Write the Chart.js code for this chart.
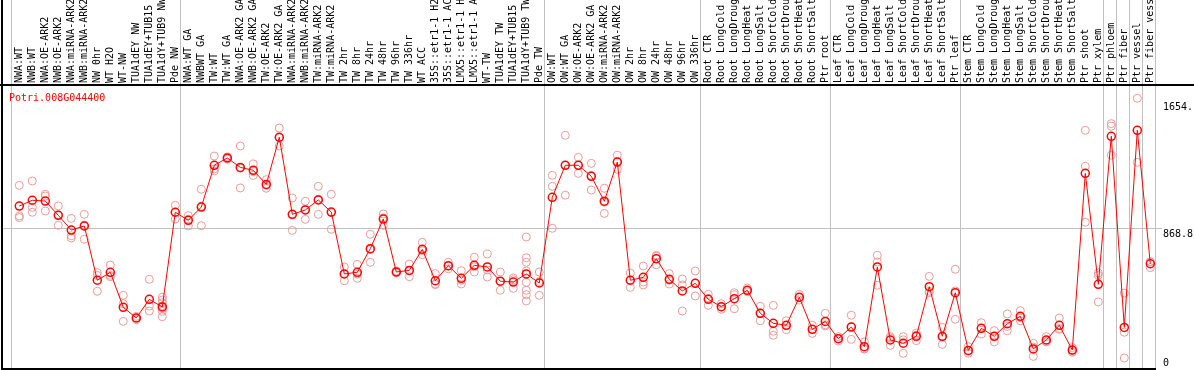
<!DOCTYPE html>
<html><head><meta charset="utf-8">
<script src="https://cdn.jsdelivr.net/npm/chart.js@4"></script>
<style>html,body{margin:0;padding:0;background:#fff;overflow:hidden}#wrap{width:1194px;height:370px}</style>
</head><body>
<div id="wrap"><canvas id="c" width="1194" height="370"></canvas></div>
<script>
const geneName = "Potri.008G044400";
const categories = [
 "NWA:WT","NWB:WT","NWA:OE-ARK2","NWB:OE-ARK2","NWA:miRNA-ARK2","NWB:miRNA-ARK2","NW 0hr","WT H2O","WT-NW","TUA1dEY NW","TUA1dEY+TUB15 NW","TUA1dY+TUB9 NW","Pde NW",
 "NWA:WT GA","NWBWT GA","TW:WT","TW:WT GA","NWA:OE-ARK2 GA","NWB:OE-ARK2 GA","TW:OE-ARK2","TW:OE-ARK2 GA","NWA:miRNA-ARK2 GA","NWB:miRNA-ARK2 GA","TW:miRNA-ARK2","TW:miRNA-ARK2 GA",
 "TW 2hr","TW 8hr","TW 24hr","TW 48hr","TW 96hr","TW 336hr","WT ACC","35S::etr1-1 H2O","35S::etr1-1 ACC","LMX5::etr1-1 H2O","LMX5::etr1-1 ACC","WT-TW","TUA1dEY TW","TUA1dEY+TUB15 TW","TUA1dY+TUB9 TW","Pde TW",
 "OW:WT","OW:WT GA","OW:OE-ARK2","OW:OE-ARK2 GA","OW:miRNA-ARK2","OW:miRNA-ARK2 GA","OW 2hr","OW 8hr","OW 24hr","OW 48hr","OW 96hr","OW 336hr",
 "Root CTR","Root LongCold","Root LongDrought","Root LongHeat","Root LongSalt","Root ShortCold","Root ShortDrought","Root ShortHeat","Root ShortSalt","Ptr root",
 "Leaf CTR","Leaf LongCold","Leaf LongDrought","Leaf LongHeat","Leaf LongSalt","Leaf ShortCold","Leaf ShortDrought","Leaf ShortHeat","Leaf ShortSalt","Ptr leaf",
 "Stem CTR","Stem LongCold","Stem LongDrought","Stem LongHeat","Stem LongSalt","Stem ShortCold","Stem ShortDrought","Stem ShortHeat","Stem ShortSalt","Ptr shoot",
 "Ptr xylem","Ptr phloem","Ptr fiber","Ptr vessel","Ptr fiber vessel"
];
const means = [
 1006,1042,1037,949,858,883,548,597,381,315,430,383,968,
 918,1000,1258,1303,1245,1227,1140,1431,955,982,1044,969,
 587,597,743,926,599,609,739,545,638,560,640,630,542,537,587,531,
 1060,1258,1258,1190,1036,1278,548,566,681,554,482,529,
 430,385,434,486,344,282,270,443,245,294,
 187,259,138,630,179,159,202,508,202,471,
 115,251,202,280,325,124,179,270,117,1208,
 523,1437,257,1474,650
];
const replicates = [
 [1134,945,935],[1161,998,968],[1079,1068,976],[1007,952,887],[930,823,809],[955,889,801],
 [595,578,480],[642,578,570],[455,403,294],[325,315,305],[554,389,358],[443,426,409,389,372,356,323],[1011,968,926],
 [947,924,883],[1110,1005,885],[1315,1235,1223],[1310,1303,1296],[1377,1240,1118],[1266,1220,1196],
 [1169,1135,1116],[1488,1428,1377],[1056,953,856],[1036,985,924],[1128,1048,955],[1079,966,863],
 [630,587,545],[646,586,560],[832,738,659],[957,934,887],[605,599,593],[648,609,570],[782,730,706],
 [589,525,521],[659,636,619],[607,548,525],[690,631,599],[710,612,568],[599,541,486],[562,551,498],
 [815,687,659,605,535,486,459,420],[599,540,455],
 [1196,1128,869],[1443,1258,1073],[1307,1258,1208],[1270,1195,1105],[1116,1030,961],[1320,1282,1233],
 [593,547,504],[636,537,519],[702,697,644],[589,548,525],[556,519,358],[605,531,451],
 [461,436,393],[403,383,369],[471,459,372],[500,486,477],[387,347,298],[393,233,208],[298,269,243],
 [461,442,426],[270,245,220],[344,273,266],
 [200,188,173],[332,262,183],[167,124,123],[702,661,517],[200,191,146],[200,180,97],[222,209,175],
 [572,480,472],[257,197,152],[616,482,307],
 [138,110,97],[286,251,216],[237,202,167],[340,263,237],[360,317,298],[159,135,78],[200,170,167],
 [315,250,245],[132,117,104],[1474,1252,906],
 [593,578,414],[1515,1499,1320],[469,227,68],[1672,1276],[663,661,626]
];
const groupEnds = [-1, 12, 40, 52, 62, 72, 83, 84, 85, 86, 87];
const yTickValues = [0, 868.8, 1654];
const yTickLabels = ["0", "868.8", "1654."];

const FONT = '"DejaVu Sans Mono", monospace';

const framePlugin = {
  id: 'frame',
  beforeDraw(chart) {
    const ys = chart.scales.y, a = chart.chartArea;
    const items = ys.getLabelItems();
    if (!items._adjusted) {
      items.forEach(it => {
        it.options.textBaseline = 'alphabetic';
        it.options.translation = [it.options.translation[0], Math.min(it.options.translation[1] + 9, a.bottom - 3)];
      });
      items._adjusted = true;
    }
  },
  beforeDatasetsDraw(chart) {
    const {ctx, chartArea: a, scales: {x}} = chart;
    ctx.save();
    ctx.fillStyle = '#c0c0c0';
    let lastPx = a.right;
    groupEnds.forEach(k => {
      const px = Math.round(x.getPixelForValue(k + 0.36));
      ctx.fillRect(px, 0, 1, a.bottom - 1);
      lastPx = px;
    });
    ctx.fillStyle = '#000';
    ctx.fillRect(0, a.top - 2, chart.width, 2);
    ctx.fillRect(a.left - 1, 0, 2, a.bottom + 1);
    ctx.fillRect(a.left - 1, a.bottom - 1, lastPx - a.left + 2, 2);
    ctx.restore();
  },
  afterDatasetsDraw(chart) {
    const {ctx, chartArea: a} = chart;
    ctx.save();
    ctx.font = '10px ' + FONT;
    ctx.fillStyle = '#ff0000';
    ctx.textBaseline = 'alphabetic';
    ctx.fillText(chart.data.datasets[0].label, a.left + 7, a.top + 15);
    ctx.restore();
  }
};

new Chart(document.getElementById('c'), {
  type: 'scatter',
  data: {
    datasets: [
      {
        label: geneName,
        data: means.map((v, i) => ({x: i, y: v})),
        showLine: true,
        borderColor: '#ff0000',
        borderWidth: 1,
        tension: 0,
        pointRadius: 4,
        pointBorderWidth: 1.5,
        pointBorderColor: '#ff0000',
        pointBackgroundColor: 'rgba(0,0,0,0)'
      },
      {
        label: 'replicates',
        data: replicates.flatMap((arr, i) => arr.map(v => ({x: i, y: v}))),
        showLine: false,
        pointRadius: 4,
        pointBorderWidth: 1,
        pointBorderColor: '#ec9a9a',
        pointBackgroundColor: 'rgba(0,0,0,0)'
      }
    ]
  },
  options: {
    responsive: false,
    animation: false,
    devicePixelRatio: 1,
    layout: {autoPadding: false, padding: {left: 2, right: 0, top: 0, bottom: 1}},
    plugins: {legend: {display: false}, tooltip: {enabled: false}, title: {display: false}},
    events: [],
    scales: {
      x: {
        type: 'linear',
        position: 'top',
        min: -1.331,
        max: 87.9,
        bounds: 'data',
        afterBuildTicks: s => { s.ticks = categories.map((_, i) => ({value: i})); },
        afterFit: s => { s.height = 86; s.paddingLeft = 0; s.paddingRight = 0; s.paddingTop = 0; s.paddingBottom = 0; },
        grid: {display: false, drawTicks: false},
        border: {display: false},
        ticks: {
          autoSkip: false, minRotation: 90, maxRotation: 90, padding: 3, color: '#000',
          labelOffset: 12,
          font: {family: FONT, size: 10},
          callback: v => categories[v]
        }
      },
      y: {
        type: 'linear',
        position: 'right',
        min: 0,
        max: 1747.5,
        afterBuildTicks: s => { s.ticks = yTickValues.map(v => ({value: v})); },
        afterFit: s => { s.width = 32; s.paddingTop = 0; s.paddingBottom = 0; s.paddingLeft = 0; s.paddingRight = 0; },
        grid: {
          drawTicks: false, lineWidth: 1,
          color: c => (c.tick && c.tick.value === 868.8) ? '#c0c0c0' : 'rgba(0,0,0,0)'
        },
        border: {display: false},
        ticks: {
          padding: 1, color: '#000', font: {family: FONT, size: 10},
          callback: (v, i) => yTickLabels[i]
        }
      }
    }
  },
  plugins: [framePlugin]
});
</script>
</body></html>
